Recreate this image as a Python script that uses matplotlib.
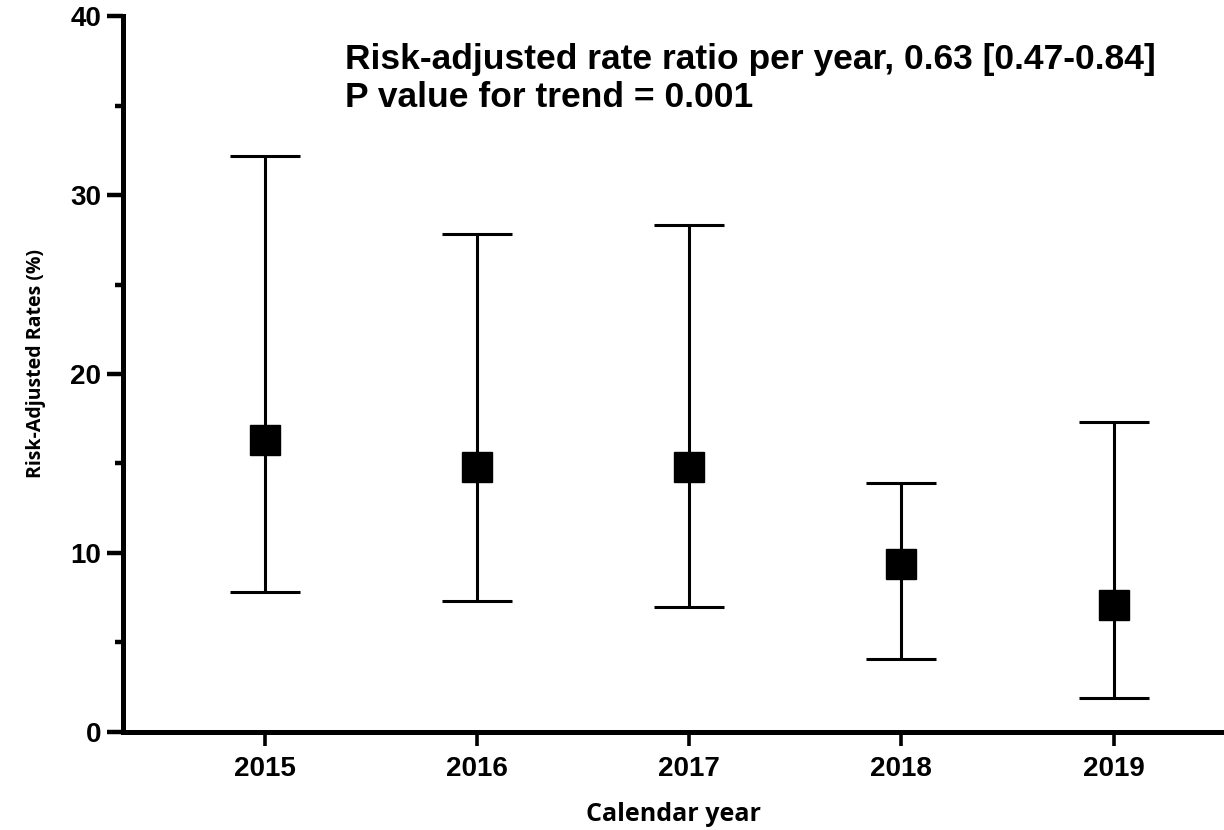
import matplotlib
matplotlib.use("Agg")
import matplotlib.pyplot as plt
import numpy as np

years = ["2015", "2016", "2017", "2018", "2019"]
rates = [16.3, 14.8, 14.8, 9.4, 7.1]
lower = [7.8, 7.3, 7.0, 4.1, 1.9]
upper = [32.2, 27.8, 28.3, 13.9, 17.3]

line1 = "Risk-adjusted rate ratio per year, 0.63 [0.47-0.84]"
line2 = "P value for trend = 0.001"

x = np.arange(len(years))
yerr = [np.array(rates) - np.array(lower), np.array(upper) - np.array(rates)]

fig = plt.figure(figsize=(12.24, 8.3), dpi=100)
ax = fig.add_axes([0.1005, 0.1181, 0.8995, 0.8626])

ax.errorbar(x, rates, yerr=yerr, fmt='s', color='black', ms=21,
            elinewidth=2.2, capsize=25, capthick=2.2)

ax.set_xlim(-0.667, 4.52)
ax.set_ylim(0, 40)
ax.set_xticks(x, years)
ax.set_yticks([0, 10, 20, 30, 40])
ax.set_yticks([5, 15, 25, 35], minor=True)

for s in ('top', 'right'):
    ax.spines[s].set_visible(False)
for s in ('left', 'bottom'):
    ax.spines[s].set_linewidth(3.6)

ax.tick_params(axis='y', which='major', length=11.5, width=3.2, pad=4)
ax.tick_params(axis='y', which='minor', length=6, width=3.2)
ax.tick_params(axis='x', which='major', length=10, width=2.6, pad=7)

for lab in ax.get_xticklabels() + ax.get_yticklabels():
    lab.set_fontfamily('Liberation Sans')
    lab.set_fontweight('bold')
    lab.set_fontsize(20)

ax.set_xlabel('Calendar year', fontfamily='Open Sans', fontweight='bold', fontsize=18)
ax.set_ylabel('Risk-Adjusted Rates (%)', fontfamily='Open Sans', fontweight='bold', fontsize=14)
ax.xaxis.set_label_coords(0.5, -0.098)
ax.yaxis.set_label_coords(-0.07, 0.514)

fig.text(345 / 1224, 1 - 68.5 / 830, line1, fontfamily='Liberation Sans',
         fontweight='bold', fontsize=25.5, va='baseline', ha='left')
fig.text(345 / 1224, 1 - 107 / 830, line2, fontfamily='Liberation Sans',
         fontweight='bold', fontsize=25.5, va='baseline', ha='left')

fig.savefig('out.png', dpi=100)
